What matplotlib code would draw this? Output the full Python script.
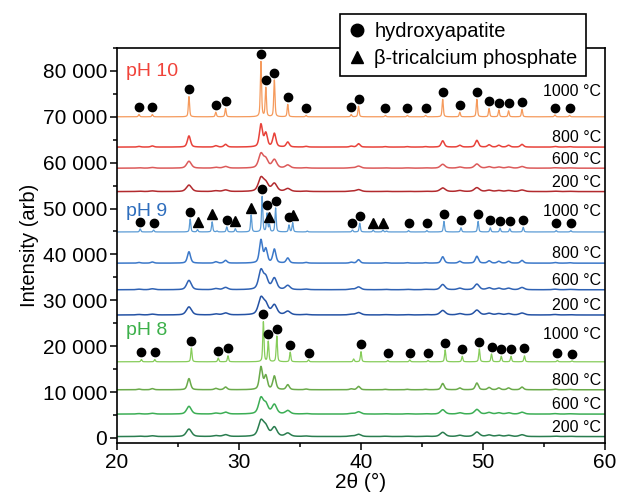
import numpy as np
import matplotlib
matplotlib.use("Agg")
import matplotlib.pyplot as plt
from matplotlib.lines import Line2D
from matplotlib.ticker import FuncFormatter, MultipleLocator

plt.rcParams['font.family'] = ['Liberation Sans', 'DejaVu Sans']

# hydroxyapatite reflections (2θ)
hap_pos = [21.8, 22.9, 25.9, 28.1, 28.9, 31.8, 32.2, 32.9, 34.0, 35.5, 39.2, 39.8,
           42.0, 43.8, 45.3, 46.7, 48.1, 49.5, 50.5, 51.3, 52.1, 53.2, 55.9, 57.1]

# 1000 °C samples: peak heights above baseline
hap_h_ph10 = [500, 500, 4400, 1000, 1800, 12000, 6300, 8000, 2700, 300, 500, 2300,
              300, 300, 300, 3800, 1000, 3800, 1800, 1500, 1300, 1600, 400, 300]
hap_h_ph9 = [650, 400, 2800, 200, 1100, 7700, 4000, 5200, 1500, 200, 400, 1900,
             200, 300, 300, 2300, 900, 2300, 900, 800, 700, 1000, 300, 300]
hap_h_ph8 = [500, 500, 3000, 800, 1300, 8700, 4400, 5600, 2100, 400, 600, 2200,
             300, 400, 300, 2600, 1200, 2800, 1700, 1200, 1200, 1300, 300, 200]
shift_1000 = [0.0, 0.1, 0.2]

# β-tricalcium phosphate reflections, only in pH 9 / 1000 °C
tcp_pos = [26.6, 27.8, 29.7, 31.0, 32.5, 34.4, 41.0, 41.8]
tcp_h_ph9 = [500, 2200, 700, 3700, 1500, 2000, 400, 400]

# which hydroxyapatite peaks carry a marker
hap_marked = [
    list(range(24)),
    [i for i in range(24) if i not in (3, 9, 12)],
    [i for i in range(24) if i != 10],
]

# 800/600/200 °C samples: broad pattern, relative amplitudes
broad_rel = [0.03, 0.05, 0.5, 0.06, 0.12, 1.0, 0.6, 0.6, 0.22, 0.03, 0.04, 0.15,
             0.02, 0.02, 0.02, 0.28, 0.08, 0.3, 0.1, 0.08, 0.08, 0.12, 0.03, 0.02]

samples = ["pH 10", "pH 9", "pH 8"]
temps = ["1000 °C", "800 °C", "600 °C", "200 °C"]
baselines = [[70000, 63400, 58800, 53700],
             [44900, 38100, 32300, 26800],
             [16600, 10500, 5200, 300]]
broad_top = [[5100, 3400, 3300],
             [5200, 4600, 4100],
             [5100, 3800, 3800]]
fwhm = [0.12, 0.3, 0.45, 0.5]

colors = [['#f59a5c', '#e8423a', '#dc5a5a', '#b22a2e'],
          ['#5b9bd5', '#3b78c9', '#2f62b4', '#2452a4'],
          ['#86cc5a', '#6aaa4a', '#3cae55', '#2a7d4f']]
label_colors = ['#f0433a', '#2f6ebd', '#3cb04a']
label_y = [79800, 49300, 23500]
top_label_off = [5600, 4400, 6000]


def profile(x, pos, heights, w):
    y = np.zeros_like(x)
    for p, h in zip(pos, heights):
        d = (x - p) / (w / 2)
        y += h * (0.5 / (1 + d ** 2) + 0.5 * np.exp(-np.log(2) * d ** 2))
    return y


x = np.linspace(20, 60, 4001)
gap = 1600

fig = plt.figure(figsize=(6.17, 5.03), dpi=100)
ax = fig.add_axes([0.1896, 0.1193, 0.7909, 0.7853])

sharp_h = [hap_h_ph10, hap_h_ph9, hap_h_ph8]
for s in range(3):
    # 1000 °C
    pos = [p + shift_1000[s] for p in hap_pos]
    y = profile(x, pos, sharp_h[s], fwhm[0])
    if s == 1:
        y = y + profile(x, tcp_pos, tcp_h_ph9, fwhm[0])
    base = baselines[s][0]
    ax.plot(x, y + base, color=colors[s][0], lw=0.9)
    mx = [pos[i] for i in hap_marked[s]]
    my = np.interp(mx, x, y) + base + gap
    ax.plot(mx, my, 'o', color='black', ms=6, ls='none')
    if s == 1:
        ty = np.interp(tcp_pos, x, y) + base + gap
        ax.plot(tcp_pos, ty, '^', color='black', ms=6.5, ls='none')
    ax.text(59.7, base + top_label_off[s], temps[0], ha='right', va='center', fontsize=11.5)

    # broad patterns
    for t in range(1, 4):
        yb = profile(x, hap_pos, broad_rel, fwhm[t])
        yb = yb / yb.max() * broad_top[s][t - 1]
        base = baselines[s][t]
        ax.plot(x, yb + base, color=colors[s][t], lw=1.1)
        ax.text(59.7, base + 2000, temps[t], ha='right', va='center', fontsize=11.5)

    ax.text(20.75, label_y[s], samples[s], color=label_colors[s], fontsize=14,
            ha='left', va='center')

ax.set_xlim(20, 60)
ax.set_ylim(-1100, 85000)
ax.xaxis.set_major_locator(MultipleLocator(10))
ax.xaxis.set_minor_locator(MultipleLocator(5))
ax.yaxis.set_major_locator(MultipleLocator(10000))
ax.yaxis.set_minor_locator(MultipleLocator(5000))
ax.yaxis.set_major_formatter(FuncFormatter(lambda v, p: f"{int(v):,}".replace(",", " ")))
ax.tick_params(which='both', direction='out', labelsize=15, width=1.1)
ax.tick_params(which='major', length=5, pad=2)
ax.tick_params(which='minor', length=3)
for sp in ax.spines.values():
    sp.set_linewidth(1.2)
ax.set_xlabel('2θ (°)', fontsize=15, labelpad=1)
ax.set_ylabel('Intensity (arb)', fontsize=14.5, labelpad=3)

handles = [Line2D([], [], marker='o', color='black', ls='none', ms=9),
           Line2D([], [], marker='^', color='black', ls='none', ms=9)]
leg = ax.legend(handles, ['hydroxyapatite', 'β-tricalcium phosphate'],
                loc='upper right', bbox_to_anchor=(0.949, 0.973),
                bbox_transform=fig.transFigure, fontsize=14.5, fancybox=False,
                framealpha=1, edgecolor='black', handlelength=0.9,
                handletextpad=0.4, labelspacing=0.4, borderpad=0.4,
                borderaxespad=0)
leg.get_frame().set_linewidth(1.2)

fig.savefig('out.png', dpi=100)
